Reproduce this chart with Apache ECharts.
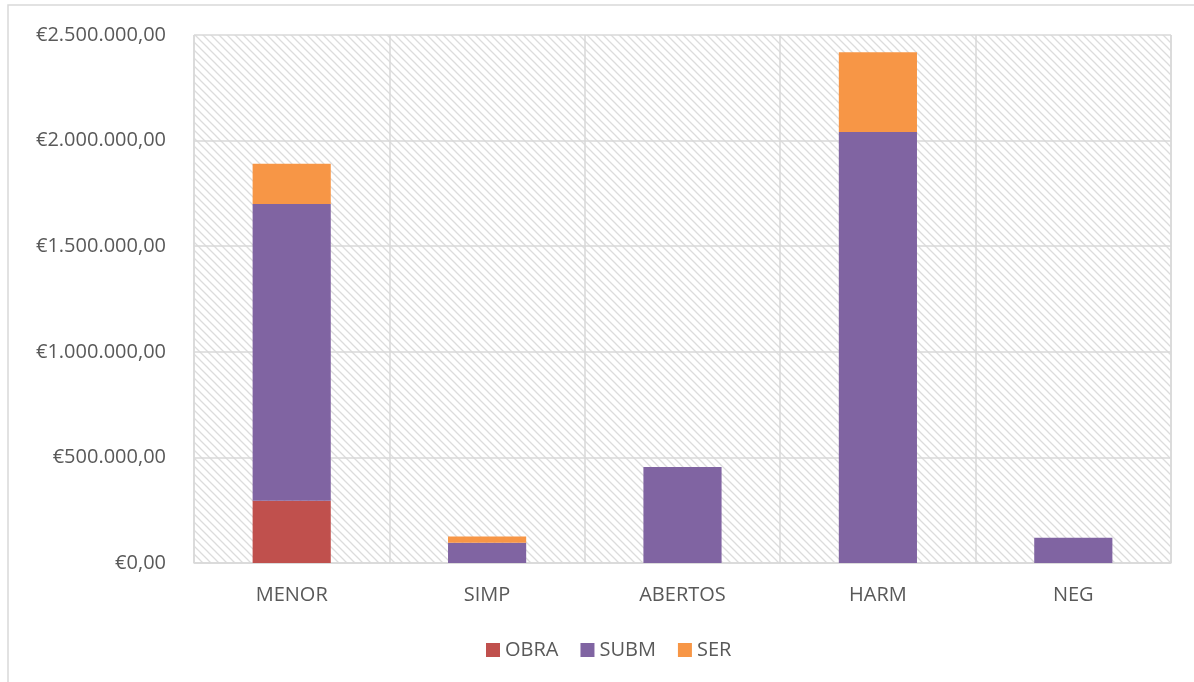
<!DOCTYPE html>
<html>
<head>
<meta charset="utf-8">
<script src="https://cdn.jsdelivr.net/npm/echarts@6/dist/echarts.min.js"></script>
<style>
  html, body { margin: 0; padding: 0; background: #fff; }
  #chart { width: 1194px; height: 682px; }
</style>
</head>
<body>
<div id="chart"></div>
<script>
var chart = echarts.init(document.getElementById('chart'));

// dados
var categorias = ['MENOR', 'SIMP', 'ABERTOS', 'HARM', 'NEG'];
var obra = [295000, 0, 0, 0, 0];
var subm = [1405000, 96000, 455000, 2041000, 120000];
var ser = [190000, 30000, 0, 377000, 0];
var yTicks = [0, 500000, 1000000, 1500000, 2000000, 2500000];

var fonte = '"Open Sans", "Liberation Sans", sans-serif';

// padrão tracejado diagonal do fundo (estilo Excel)
function hatch() {
    var c = document.createElement('canvas');
    c.width = 8; c.height = 8;
    var ctx = c.getContext('2d');
    ctx.fillStyle = '#ffffff';
    ctx.fillRect(0, 0, 8, 8);
    ctx.strokeStyle = '#dcdcdc';
    ctx.lineWidth = 1.3;
    ctx.beginPath();
    ctx.moveTo(-1, -1); ctx.lineTo(9, 9);
    ctx.moveTo(-1, 7); ctx.lineTo(1, 9);
    ctx.moveTo(7, -1); ctx.lineTo(9, 1);
    ctx.stroke();
    return c;
}

function euro(v) {
    var s = String(Math.round(v)).replace(/\B(?=(\d{3})+(?!\d))/g, '.');
    return '€' + s + ',00';
}

function serie(nome, dados, cor) {
    return {
        name: nome,
        type: 'bar',
        stack: 'total',
        barWidth: '40%',
        data: dados,
        itemStyle: { color: cor },
        emphasis: { disabled: true }
    };
}

var option = {
    backgroundColor: '#ffffff',
    animation: false,
    graphic: [{
        type: 'rect',
        shape: { x: 8, y: 5, width: 1200, height: 700 },
        style: { fill: 'none', stroke: '#d9d9d9', lineWidth: 1.5 },
        silent: true,
        z: -1
    }, {
        // bordas laterais da área do gráfico
        type: 'line',
        shape: { x1: 1171, y1: 35, x2: 1171, y2: 563 },
        style: { stroke: '#d9d9d9', lineWidth: 1.5 },
        silent: true
    }, {
        type: 'line',
        shape: { x1: 194, y1: 35, x2: 194, y2: 563 },
        style: { stroke: '#d9d9d9', lineWidth: 1.5 },
        silent: true
    }],
    grid: {
        left: 194,
        right: 23,
        top: 35,
        bottom: 119,
        show: true,
        borderWidth: 0,
        backgroundColor: { image: hatch(), repeat: 'repeat' }
    },
    legend: {
        bottom: 17,
        left: 481,
        itemWidth: 14,
        itemHeight: 14,
        itemGap: 22,
        icon: 'rect',
        textStyle: { color: '#595959', fontSize: 20, fontFamily: fonte },
        data: ['OBRA', 'SUBM', 'SER']
    },
    xAxis: {
        type: 'category',
        data: categorias,
        axisLine: { show: true, lineStyle: { color: '#d9d9d9', width: 1.5 } },
        axisTick: { show: false },
        axisLabel: { color: '#595959', fontSize: 20, fontFamily: fonte, margin: 22 },
        splitLine: { show: true, lineStyle: { color: '#d9d9d9', width: 1.5 } }
    },
    yAxis: {
        type: 'value',
        min: yTicks[0],
        max: yTicks[yTicks.length - 1],
        interval: yTicks[1] - yTicks[0],
        axisLine: { show: false },
        axisTick: { show: false },
        axisLabel: {
            color: '#595959', fontSize: 20, fontFamily: fonte, margin: 28,
            formatter: euro
        },
        splitLine: { lineStyle: { color: '#d9d9d9', width: 1.5 } }
    },
    series: [
        serie('OBRA', obra, '#c0504d'),
        serie('SUBM', subm, '#8064a2'),
        serie('SER', ser, '#f79646')
    ]
};

chart.setOption(option);
</script>
</body>
</html>
